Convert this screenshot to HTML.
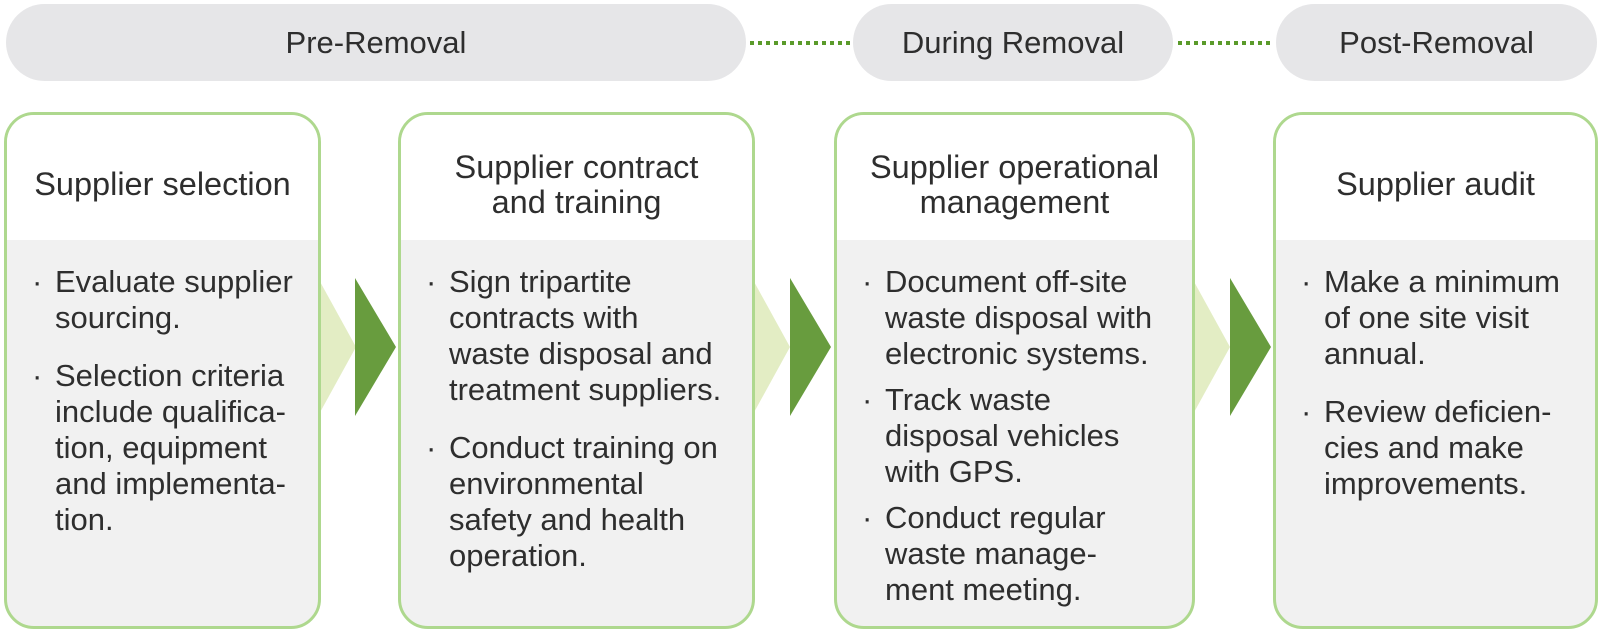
<!DOCTYPE html>
<html><head><meta charset="utf-8"><style>
body{margin:0;width:1601px;height:632px;background:#fff;position:relative;overflow:hidden;font-family:"Liberation Sans",sans-serif;color:#2e2e2e}
.pill{position:absolute;top:4px;height:77px;background:#e6e6e8;border-radius:39px;font-size:31px;line-height:77px;text-align:center}
.box{position:absolute;top:112px;border:3px solid #aed88e;border-radius:30px;background:#f1f1f1;overflow:hidden;box-sizing:border-box;height:517px}
.hd{position:absolute;left:0;right:0;top:0;height:139px;background:#fff;display:flex;align-items:center;justify-content:center;text-align:center;font-size:32.5px;line-height:35px}
.hd+.bg{position:absolute;left:0;right:0;top:125px;height:14px;background:#f1f1f1}
.bd{position:absolute;top:149px;left:0;right:0;font-size:31px;line-height:36px}
.b{position:relative;padding-left:48px;white-space:nowrap;margin-bottom:22px}
.b:before{content:"·";position:absolute;left:25px;top:0}
</style></head><body>
<svg width="1601" height="632" style="position:absolute;left:0;top:0">
<line x1="750" y1="43" x2="851" y2="43" stroke="#5a9a2a" stroke-width="4" stroke-dasharray="4 4"/>
<line x1="1178" y1="43" x2="1273" y2="43" stroke="#5a9a2a" stroke-width="4" stroke-dasharray="4 4"/>
<polygon points="318,278 356,347 318,416" fill="#e3edc4"/>
<polygon points="355,278 396,347 355,416" fill="#689c3e"/>
<polygon points="752,278 790,347 752,416" fill="#e3edc4"/>
<polygon points="790,278 831,347 790,416" fill="#689c3e"/>
<polygon points="1192,278 1230,347 1192,416" fill="#e3edc4"/>
<polygon points="1230,278 1271,347 1230,416" fill="#689c3e"/>
</svg>
<div class="pill" style="left:6px;width:740px">Pre-Removal</div>
<div class="pill" style="left:853px;width:320px">During Removal</div>
<div class="pill" style="left:1276px;width:321px">Post-Removal</div>

<div class="box" style="left:4px;width:317px">
<div class="hd">Supplier selection</div><div class="bg"></div>
<div class="bd">
<div class="b">Evaluate supplier<br>sourcing.</div>
<div class="b">Selection criteria<br>include qualifica-<br>tion, equipment<br>and implementa-<br>tion.</div>
</div></div>

<div class="box" style="left:398px;width:357px">
<div class="hd">Supplier contract<br>and training</div><div class="bg"></div>
<div class="bd">
<div class="b">Sign tripartite<br>contracts with<br>waste disposal and<br>treatment suppliers.</div>
<div class="b">Conduct training on<br>environmental<br>safety and health<br>operation.</div>
</div></div>

<div class="box" style="left:834px;width:361px">
<div class="hd">Supplier operational<br>management</div><div class="bg"></div>
<div class="bd">
<div class="b" style="margin-bottom:10px">Document off-site<br>waste disposal with<br>electronic systems.</div>
<div class="b" style="margin-bottom:10px">Track waste<br>disposal vehicles<br>with GPS.</div>
<div class="b">Conduct regular<br>waste manage-<br>ment meeting.</div>
</div></div>

<div class="box" style="left:1273px;width:325px">
<div class="hd">Supplier audit</div><div class="bg"></div>
<div class="bd">
<div class="b">Make a minimum<br>of one site visit<br>annual.</div>
<div class="b">Review deficien-<br>cies and make<br>improvements.</div>
</div></div>
</body></html>
